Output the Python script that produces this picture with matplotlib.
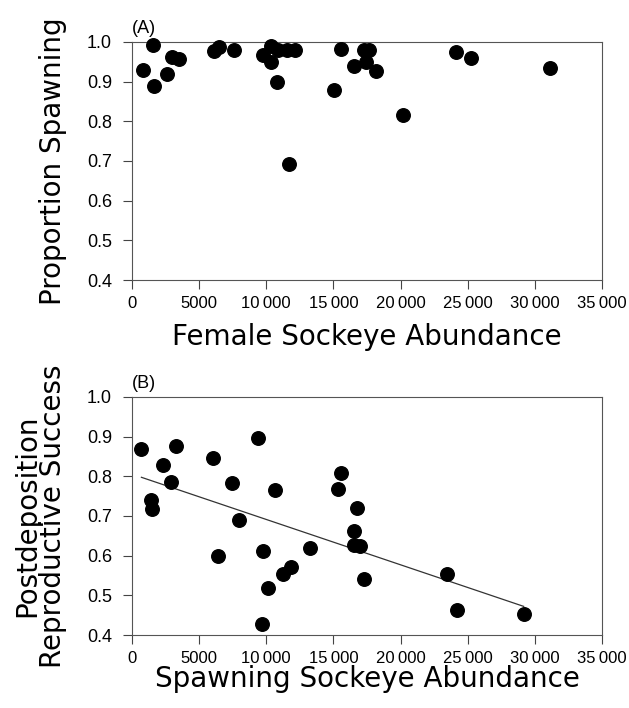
import numpy as np
import matplotlib.pyplot as plt

# Painel A: proporcao de femeas que desovaram
femeas = [800, 1575, 1650, 2575, 3000, 3525, 6125, 6500, 7625, 9775,
          10375, 10375, 10825, 10900, 11525, 12150, 11700, 15050, 15600,
          16550, 17300, 17625, 17425, 18175, 20175, 24100, 25225, 31100]
prop_desova = [0.929, 0.992, 0.888, 0.920, 0.962, 0.957, 0.978, 0.987,
               0.979, 0.966, 0.989, 0.950, 0.900, 0.981, 0.981, 0.981,
               0.692, 0.878, 0.982, 0.940, 0.979, 0.979, 0.949, 0.926,
               0.817, 0.974, 0.960, 0.935]

# Painel B: sucesso reprodutivo pos-deposicao
desovantes = [700, 1450, 1500, 2275, 2875, 3275, 6000, 6375, 7450, 7950,
              9350, 9775, 9700, 10150, 10650, 11275, 11875, 13275, 15375,
              15575, 16775, 16525, 16525, 16950, 17275, 23475, 24175, 29175]
sucesso = [0.868, 0.741, 0.718, 0.828, 0.786, 0.876, 0.845, 0.600, 0.784,
           0.691, 0.897, 0.613, 0.427, 0.518, 0.766, 0.555, 0.571, 0.620,
           0.767, 0.808, 0.720, 0.661, 0.627, 0.624, 0.542, 0.553, 0.464,
           0.454]

xticks = [0, 5000, 10000, 15000, 20000, 25000, 30000, 35000]
xlabels = ['0', '5000', '10\u2009000', '15\u2009000', '20\u2009000',
           '25\u2009000', '30\u2009000', '35\u2009000']
yticks = [0.4, 0.5, 0.6, 0.7, 0.8, 0.9, 1.0]

plt.rcParams['font.family'] = ['Liberation Sans', 'DejaVu Sans']
fonte_rotulo = ['DejaVu Sans']

fig = plt.figure(figsize=(6.29, 7.08), dpi=100)
axA = fig.add_axes([0.2099, 0.6045, 0.747, 0.3362])
axB = fig.add_axes([0.2099, 0.1031, 0.747, 0.3362])


def formatar_eixo(ax):
    ax.set_xlim(0, 35000)
    ax.set_ylim(0.4, 1.0)
    ax.set_xticks(xticks)
    ax.set_xticklabels(xlabels, fontsize=12)
    ax.set_yticks(yticks)
    ax.set_yticklabels(['%.1f' % v for v in yticks], fontsize=13)
    ax.tick_params(direction='out', length=6.5, width=0.8, color='#444444')
    ax.tick_params(axis='x', pad=5)
    ax.tick_params(axis='y', pad=8)
    for s in ax.spines.values():
        s.set_linewidth(0.8)
        s.set_color('#555555')


axA.scatter(femeas, prop_desova, s=95, color='black', zorder=3,
            clip_on=False)
formatar_eixo(axA)
axA.set_xlabel('Female Sockeye Abundance', fontsize=20, family=fonte_rotulo)
axA.xaxis.set_label_coords(0.5, -0.18)
axA.set_ylabel('Proportion Spawning', fontsize=20, family=fonte_rotulo)
axA.yaxis.set_label_coords(-0.138, 0.5)
axA.text(0.0, 1.02, '(A)', transform=axA.transAxes, fontsize=13,
         ha='left', va='bottom')

axB.scatter(desovantes, sucesso, s=95, color='black', zorder=3,
            clip_on=False)
# reta de regressao ajustada aos pontos
coef = np.polyfit(desovantes, sucesso, 1)
xr = np.array([min(desovantes), max(desovantes)])
axB.plot(xr, np.polyval(coef, xr), color='#333333', linewidth=0.9)
formatar_eixo(axB)
axB.set_xlabel('Spawning Sockeye Abundance', fontsize=20,
               family=fonte_rotulo)
axB.xaxis.set_label_coords(0.5, -0.126)
axB.set_ylabel('Postdeposition\nReproductive Success', fontsize=20,
               family=fonte_rotulo, linespacing=0.92)
axB.yaxis.set_label_coords(-0.138, 0.5)
axB.text(0.0, 1.02, '(B)', transform=axB.transAxes, fontsize=13,
         ha='left', va='bottom')

fig.savefig('out.png', dpi=100)
